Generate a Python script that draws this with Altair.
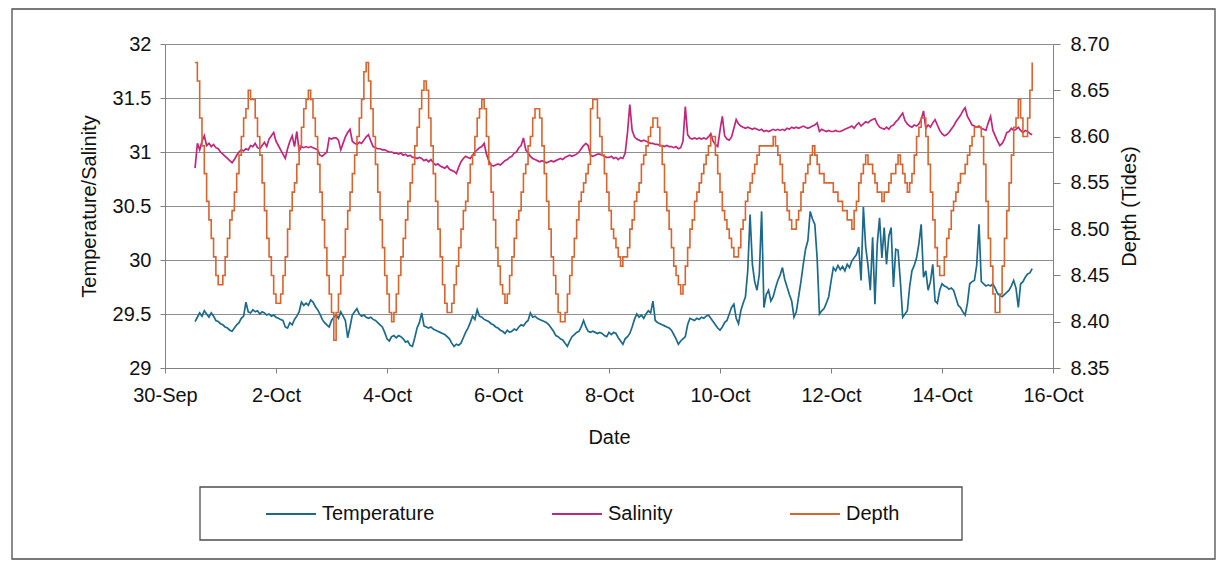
import altair as alt
import pandas as pd

# hourly readings, first value 30-Sep 13:00, one row per day
temperature = [
    29.43, 29.47, 29.51, 29.48, 29.53, 29.50, 29.47, 29.51, 29.48, 29.44, 29.43,
    29.41, 29.40, 29.38, 29.37, 29.35, 29.34, 29.37, 29.40, 29.42, 29.46, 29.48, 29.61, 29.52, 29.51, 29.54, 29.52, 29.53, 29.50, 29.52, 29.51, 29.49, 29.50, 29.48, 29.49,
    29.47, 29.46, 29.45, 29.44, 29.38, 29.37, 29.42, 29.40, 29.45, 29.48, 29.52, 29.61, 29.58, 29.60, 29.58, 29.63, 29.61, 29.57, 29.54, 29.50, 29.45, 29.42, 29.40, 29.38,
    29.44, 29.47, 29.49, 29.46, 29.52, 29.48, 29.44, 29.28, 29.38, 29.49, 29.52, 29.55, 29.50, 29.48, 29.49, 29.47, 29.46, 29.47, 29.45, 29.44, 29.42, 29.40, 29.38, 29.33,
    29.27, 29.25, 29.29, 29.30, 29.28, 29.30, 29.29, 29.27, 29.24, 29.25, 29.21, 29.20, 29.28, 29.37, 29.42, 29.51, 29.39, 29.38, 29.37, 29.38, 29.36, 29.35, 29.34, 29.33,
    29.32, 29.31, 29.29, 29.27, 29.23, 29.20, 29.22, 29.21, 29.23, 29.28, 29.33, 29.37, 29.42, 29.48, 29.45, 29.54, 29.48, 29.47, 29.45, 29.44, 29.43, 29.41, 29.40, 29.38,
    29.37, 29.35, 29.34, 29.32, 29.35, 29.33, 29.34, 29.36, 29.35, 29.38, 29.40, 29.39, 29.42, 29.44, 29.51, 29.47, 29.48, 29.46, 29.45, 29.44, 29.43, 29.42, 29.40, 29.37,
    29.34, 29.30, 29.29, 29.27, 29.26, 29.23, 29.20, 29.25, 29.29, 29.31, 29.33, 29.34, 29.38, 29.44, 29.38, 29.34, 29.33, 29.34, 29.33, 29.32, 29.33, 29.32, 29.30, 29.29,
    29.33, 29.31, 29.33, 29.32, 29.28, 29.25, 29.22, 29.27, 29.29, 29.32, 29.38, 29.45, 29.50, 29.47, 29.49, 29.46, 29.50, 29.53, 29.51, 29.62, 29.44, 29.42, 29.41, 29.40,
    29.39, 29.38, 29.37, 29.35, 29.31, 29.27, 29.22, 29.25, 29.27, 29.29, 29.40, 29.46, 29.45, 29.44, 29.46, 29.45, 29.47, 29.46, 29.48, 29.49, 29.46, 29.43, 29.40, 29.37,
    29.35, 29.38, 29.42, 29.44, 29.50, 29.56, 29.59, 29.46, 29.41, 29.53, 29.60, 29.66, 29.90, 30.42, 29.96, 29.80, 29.72, 29.87, 30.45, 29.56, 29.68, 29.72, 29.62, 29.66,
    29.74, 29.81, 29.86, 29.93, 29.82, 29.75, 29.68, 29.62, 29.47, 29.52, 29.66, 29.80, 29.96, 30.10, 30.18, 30.45, 30.38, 30.33, 30.02, 29.50, 29.53, 29.55, 29.60, 29.66,
    29.80, 29.93, 29.90, 29.95, 29.91, 29.94, 29.90, 29.96, 29.93, 29.99, 30.02, 30.05, 30.12, 29.81, 30.49, 30.12, 29.95, 29.72, 30.21, 29.59, 30.15, 30.39, 30.02, 30.30,
    29.96, 30.22, 30.30, 29.75, 30.10, 30.09, 29.80, 29.47, 29.50, 29.53, 29.75, 29.90, 29.95, 30.02, 30.15, 30.33, 29.84, 29.90, 29.72, 29.80, 29.96, 29.62, 29.60, 29.72,
    29.78, 29.76, 29.75, 29.73, 29.74, 29.72, 29.65, 29.58, 29.56, 29.52, 29.49, 29.60, 29.78, 29.80, 29.81, 29.95, 30.33, 29.80, 29.78, 29.76, 29.77, 29.76, 29.78, 29.74,
    29.69, 29.67, 29.66, 29.68, 29.70, 29.72, 29.76, 29.81, 29.74, 29.56, 29.78, 29.80, 29.84, 29.87, 29.88, 29.92,
]

salinity = [
    30.85, 31.08, 31.02, 31.10, 31.15, 31.06, 31.08, 31.05, 31.07, 31.04, 31.03,
    31.00, 30.98, 30.96, 30.94, 30.92, 30.90, 30.93, 30.97, 31.00, 31.02, 31.01, 31.03, 31.02, 31.06, 31.05, 31.08, 31.04, 31.03, 31.06, 31.09, 31.05, 31.12, 31.15, 31.18,
    31.10, 31.06, 31.02, 30.98, 30.94, 31.03, 31.10, 31.15, 31.05, 31.19, 31.01, 31.05, 31.04, 31.05, 31.04, 31.05, 31.04, 31.03, 31.02, 30.97, 30.96, 30.98, 31.00, 31.13,
    31.12, 31.13, 31.13, 31.11, 31.02, 31.08, 31.14, 31.18, 31.21, 31.10, 31.08, 31.07, 31.09, 31.08, 31.11, 31.14, 31.16, 31.10, 31.05, 31.04, 31.03, 31.03, 31.02, 31.02,
    31.01, 31.00, 31.00, 30.99, 30.99, 30.98, 30.99, 30.97, 30.98, 30.96, 30.97, 30.95, 30.95, 30.94, 30.95, 30.94, 30.92, 30.93, 30.91, 30.93, 30.90, 30.88, 30.89, 30.87,
    30.86, 30.85, 30.87, 30.84, 30.83, 30.82, 30.80, 30.86, 30.91, 30.94, 30.96, 30.95, 30.94, 30.97, 31.00, 31.02, 31.04, 31.05, 31.08, 30.98, 30.92, 30.88, 30.87, 30.88,
    30.89, 30.88, 30.90, 30.92, 30.93, 30.95, 30.96, 30.99, 31.00, 31.04, 31.06, 31.13, 31.02, 30.99, 30.96, 30.94, 30.93, 30.92, 30.91, 30.92, 30.91, 30.90, 30.91, 30.92,
    30.91, 30.92, 30.93, 30.94, 30.93, 30.95, 30.96, 30.97, 30.96, 30.97, 30.98, 31.00, 31.03, 31.06, 31.08, 31.06, 30.97, 30.96, 30.97, 30.98, 30.98, 30.97, 30.96, 30.95,
    30.95, 30.96, 30.94, 30.95, 30.93, 30.95, 30.94, 30.99, 31.18, 31.44, 31.20, 31.14, 31.12, 31.11, 31.10, 31.11, 31.10, 31.09, 31.08, 31.08, 31.07, 31.07, 31.06, 31.06,
    31.05, 31.06, 31.05, 31.05, 31.04, 31.05, 31.03, 31.04, 31.10, 31.42, 31.16, 31.13, 31.12, 31.13, 31.12, 31.13, 31.12, 31.13, 31.12, 31.14, 31.17, 31.10, 31.07, 31.05,
    31.20, 31.33, 31.15, 31.12, 31.11, 31.14, 31.22, 31.30, 31.26, 31.24, 31.23, 31.22, 31.23, 31.22, 31.21, 31.22, 31.21, 31.20, 31.21, 31.19, 31.20, 31.19, 31.20, 31.21,
    31.20, 31.21, 31.20, 31.21, 31.20, 31.22, 31.21, 31.23, 31.22, 31.23, 31.22, 31.23, 31.24, 31.23, 31.22, 31.23, 31.24, 31.25, 31.27, 31.19, 31.21, 31.20, 31.19, 31.20,
    31.19, 31.19, 31.20, 31.19, 31.19, 31.20, 31.21, 31.22, 31.23, 31.24, 31.22, 31.25, 31.27, 31.24, 31.26, 31.28, 31.27, 31.29, 31.30, 31.31, 31.26, 31.23, 31.22, 31.21,
    31.23, 31.21, 31.24, 31.25, 31.28, 31.30, 31.33, 31.36, 31.29, 31.26, 31.24, 31.23, 31.25, 31.24, 31.26, 31.30, 31.38, 31.22, 31.25, 31.23, 31.27, 31.30, 31.25, 31.20,
    31.17, 31.15, 31.16, 31.18, 31.21, 31.24, 31.28, 31.31, 31.34, 31.38, 31.41, 31.33, 31.29, 31.25, 31.24, 31.23, 31.24, 31.22, 31.21, 31.20, 31.27, 31.33, 31.20, 31.15,
    31.10, 31.06, 31.08, 31.12, 31.18, 31.19, 31.22, 31.20, 31.21, 31.23, 31.20, 31.18, 31.20, 31.19, 31.17, 31.16,
]

depth = [
    8.68, 8.66, 8.62, 8.59, 8.56, 8.53, 8.51, 8.49, 8.47, 8.45, 8.44,
    8.44, 8.45, 8.47, 8.49, 8.51, 8.52, 8.54, 8.56, 8.58, 8.60, 8.62, 8.63, 8.65, 8.64, 8.64, 8.62, 8.60, 8.58, 8.55, 8.52, 8.49, 8.47, 8.45, 8.43,
    8.42, 8.42, 8.43, 8.45, 8.47, 8.50, 8.52, 8.54, 8.55, 8.57, 8.59, 8.61, 8.63, 8.64, 8.65, 8.64, 8.62, 8.60, 8.57, 8.54, 8.51, 8.48, 8.45, 8.43,
    8.41, 8.38, 8.41, 8.43, 8.45, 8.47, 8.50, 8.52, 8.54, 8.56, 8.58, 8.60, 8.62, 8.64, 8.67, 8.68, 8.66, 8.63, 8.60, 8.57, 8.54, 8.51, 8.48, 8.45,
    8.43, 8.41, 8.40, 8.41, 8.43, 8.45, 8.47, 8.49, 8.51, 8.53, 8.55, 8.57, 8.59, 8.61, 8.63, 8.65, 8.66, 8.65, 8.62, 8.59, 8.56, 8.53, 8.50, 8.47,
    8.44, 8.42, 8.41, 8.41, 8.42, 8.44, 8.46, 8.48, 8.50, 8.52, 8.53, 8.55, 8.57, 8.58, 8.60, 8.62, 8.63, 8.64, 8.63, 8.60, 8.57, 8.54, 8.51, 8.48,
    8.46, 8.44, 8.43, 8.42, 8.43, 8.45, 8.47, 8.49, 8.51, 8.52, 8.54, 8.56, 8.57, 8.59, 8.60, 8.62, 8.63, 8.63, 8.62, 8.59, 8.56, 8.53, 8.50, 8.47,
    8.45, 8.43, 8.41, 8.40, 8.40, 8.41, 8.43, 8.45, 8.47, 8.49, 8.51, 8.53, 8.54, 8.55, 8.56, 8.57, 8.63, 8.64, 8.64, 8.62, 8.60, 8.58, 8.56, 8.54,
    8.52, 8.50, 8.49, 8.48, 8.47, 8.46, 8.47, 8.47, 8.48, 8.50, 8.51, 8.53, 8.54, 8.55, 8.57, 8.58, 8.59, 8.60, 8.61, 8.62, 8.62, 8.61, 8.59, 8.57,
    8.54, 8.52, 8.50, 8.48, 8.46, 8.45, 8.44, 8.43, 8.44, 8.46, 8.48, 8.50, 8.51, 8.53, 8.54, 8.55, 8.56, 8.57, 8.58, 8.59, 8.60, 8.60, 8.58, 8.56,
    8.54, 8.52, 8.51, 8.50, 8.49, 8.48, 8.47, 8.47, 8.48, 8.50, 8.51, 8.53, 8.54, 8.55, 8.56, 8.57, 8.58, 8.59, 8.59, 8.59, 8.59, 8.59, 8.59, 8.60,
    8.59, 8.58, 8.57, 8.55, 8.54, 8.52, 8.51, 8.50, 8.50, 8.51, 8.52, 8.54, 8.55, 8.56, 8.57, 8.58, 8.59, 8.58, 8.57, 8.56, 8.56, 8.55, 8.55, 8.55,
    8.55, 8.54, 8.54, 8.53, 8.53, 8.52, 8.52, 8.51, 8.51, 8.50, 8.52, 8.53, 8.55, 8.56, 8.57, 8.58, 8.57, 8.57, 8.56, 8.55, 8.54, 8.54, 8.53, 8.54,
    8.54, 8.55, 8.56, 8.56, 8.57, 8.58, 8.57, 8.56, 8.55, 8.54, 8.55, 8.56, 8.58, 8.60, 8.61, 8.62, 8.62, 8.60, 8.57, 8.54, 8.51, 8.48, 8.46, 8.45,
    8.45, 8.47, 8.49, 8.50, 8.52, 8.53, 8.54, 8.55, 8.56, 8.56, 8.57, 8.58, 8.59, 8.60, 8.61, 8.61, 8.61, 8.60, 8.57, 8.53, 8.49, 8.46, 8.43, 8.41,
    8.41, 8.43, 8.46, 8.49, 8.52, 8.55, 8.58, 8.61, 8.62, 8.64, 8.62, 8.60, 8.60, 8.62, 8.65, 8.68,
]

series_names = ["Temperature", "Salinity", "Depth"]
series_colors = ["#1b6a8c", "#c2267c", "#d8642e"]
tick_days = [(9, 30), (10, 2), (10, 4), (10, 6), (10, 8), (10, 10), (10, 12), (10, 14), (10, 16)]
left_ticks = [29, 29.5, 30, 30.5, 31, 31.5, 32]
right_ticks = [8.35, 8.40, 8.45, 8.50, 8.55, 8.60, 8.65, 8.70]

hours = pd.date_range("2008-09-30 13:00", periods=len(temperature), freq="h")
left_df = pd.concat([
    pd.DataFrame({"Date": hours, "Value": temperature, "Series": "Temperature"}),
    pd.DataFrame({"Date": hours, "Value": salinity, "Series": "Salinity"}),
])
right_df = pd.DataFrame({"Date": hours, "Depth": depth, "Series": "Depth"})

font = "Liberation Sans"
date_ticks = [alt.DateTime(year=2008, month=m, date=d) for m, d in tick_days]

x_enc = alt.X(
    "Date:T",
    scale=alt.Scale(domain=[date_ticks[0], date_ticks[-1]]),
    axis=alt.Axis(values=date_ticks, format="%-d-%b", grid=False, title="Date",
                  tickSize=5, labelPadding=12, titlePadding=22, labelFlush=False),
)

color_enc = alt.Color(
    "Series:N",
    scale=alt.Scale(domain=series_names, range=series_colors),
    legend=alt.Legend(
        title=None, orient="none", legendX=35, legendY=444, direction="horizontal",
        symbolType="stroke", symbolSize=2500, symbolStrokeWidth=2,
        symbolOffset=65, labelOffset=5, columnPadding=51, padding=0,
        labelFont=font, labelFontSize=20, labelColor="#111111",
    ),
)

ts = alt.Chart(left_df).mark_line(strokeWidth=1.7).encode(
    x=x_enc,
    y=alt.Y("Value:Q", scale=alt.Scale(domain=[29, 32]),
            axis=alt.Axis(values=left_ticks, format=".1~f", title="Temperature/Salinity",
                          tickSize=5, labelPadding=9, titlePadding=13, labelFlush=False,
                          grid=True)),
    color=color_enc,
)

tide = alt.Chart(right_df).mark_line(strokeWidth=1.6, interpolate="step-after").encode(
    x=x_enc,
    y=alt.Y("Depth:Q", scale=alt.Scale(domain=[8.35, 8.70]),
            axis=alt.Axis(orient="right", values=right_ticks, format=".2f",
                          title="Depth (Tides)", grid=False, tickSize=7, labelPadding=10,
                          titlePadding=11, titleAngle=270, titleBaseline="top",
                          labelFlush=False)),
    color=color_enc,
)

# outer chart frame and the box round the legend
boxes = pd.DataFrame({"x": [-153, 35], "x2": [1050, 797], "y": [-35, 443], "y2": [515, 496]})
frame = alt.Chart(boxes).mark_rect(
    filled=False, stroke="#4d4d4d", strokeWidth=1.3, clip=False
).encode(
    x=alt.X("x:Q", scale=None), x2="x2", y=alt.Y("y:Q", scale=None), y2="y2"
)

chart = alt.layer(ts, tide, frame).resolve_scale(y="independent").properties(
    width=888, height=324,
    padding={"left": 157, "top": 36, "right": 163, "bottom": 192},
    autosize=alt.AutoSizeParams(type="none"),
    background="white",
).configure_view(
    strokeWidth=0
).configure_axis(
    labelFont=font, titleFont=font, labelFontSize=20, titleFontSize=20,
    labelColor="#111111", titleColor="#111111", titleFontWeight="normal",
    domainColor="#808080", tickColor="#808080", gridColor="#8f8f8f", gridWidth=1,
)

chart.save("out.html", embed_options={"renderer": "svg", "actions": False})
